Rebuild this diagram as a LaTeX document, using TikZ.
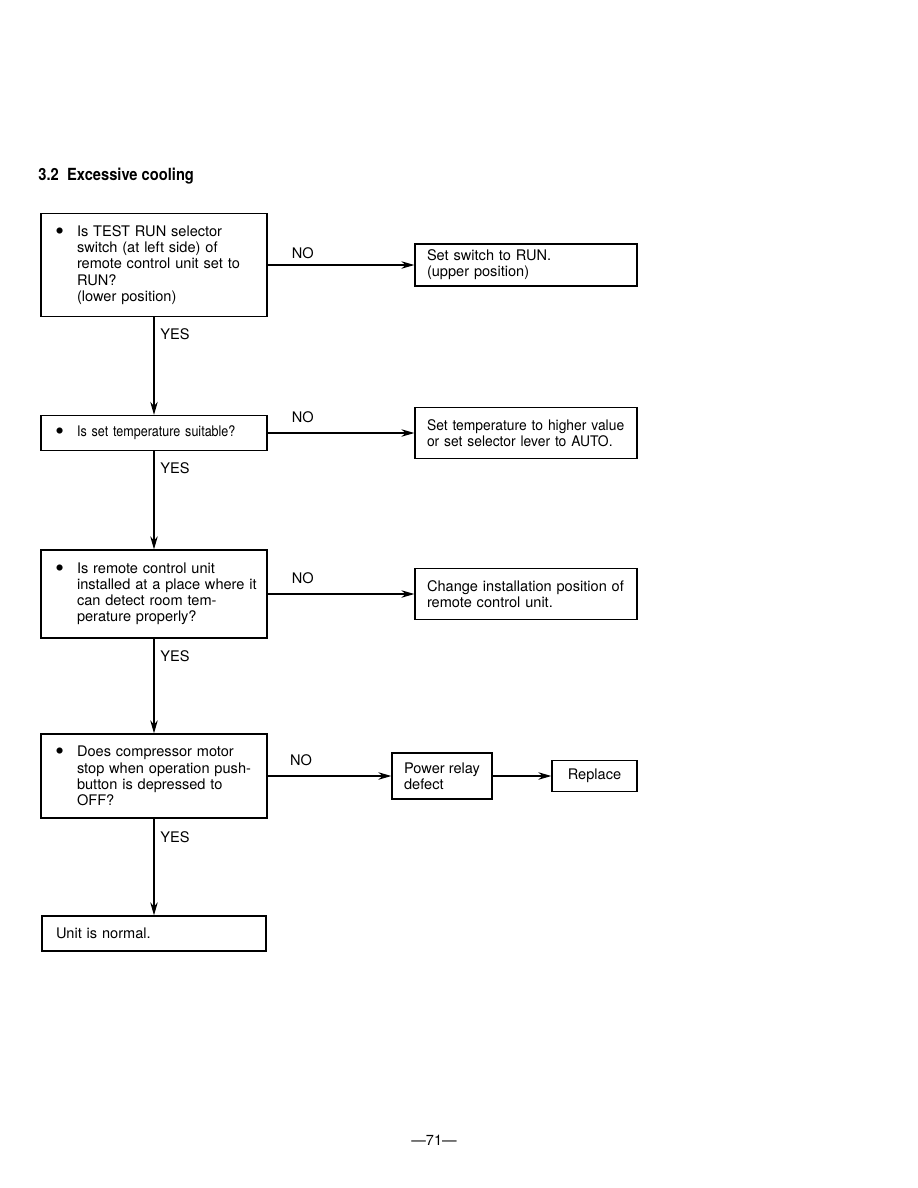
\documentclass[tikz,border=0pt]{standalone}
\usepackage{fontspec}
\setmainfont{TeX Gyre Heros}
\usetikzlibrary{arrows.meta, positioning}
\newcommand{\qitem}[1]{{\leftskip=0.52cm\llap{\raisebox{-0.35ex}{\fontsize{14}{14}\selectfont\textbullet}\hspace{0.26cm}}#1\par}}

\begin{document}
\begin{tikzpicture}[
  x=0.02cm, y=-0.02cm,
  qbox/.style={draw,line width=0.8pt,text width=4.12cm,inner xsep=0.2cm,
              align=left,font=\fontsize{8.3}{9.2}\selectfont},
  abox/.style={draw,line width=0.8pt,text width=3.96cm,inner xsep=0.24cm,
              align=left,font=\fontsize{8.3}{9.2}\selectfont},
  sbox/.style={draw,line width=0.8pt,align=left,font=\fontsize{8.3}{9.2}\selectfont},
  arr/.style={-{Stealth[length=0.26cm,width=0.15cm]},line width=0.6pt},
  lbl/.style={font=\fontsize{8.3}{10}\selectfont}
]
\useasboundingbox (0,0) rectangle (918,1188);
\node[anchor=west,inner sep=0,font=\bfseries\fontsize{9.5}{11}\selectfont] (title) at (38,176)
  {\addfontfeature{FakeStretch=0.88}3.2\hspace{0.5em}Excessive cooling};

\node[qbox,minimum height=2.06cm] (q1) at (154,265) {\qitem{Is TEST RUN selector\\ switch (at left side) of\\ remote control unit set to\\ RUN?\\ (lower position)}};
\node[qbox,minimum height=0.70cm] (q2) at (154,433) {\qitem{\addfontfeature{FakeStretch=0.86}Is set temperature suitable?}};
\node[qbox,minimum height=1.76cm] (q3) at (154,594) {\qitem{Is remote control unit\\ installed at a place where it\\ can detect room tem-\\ perature properly?}};
\node[qbox,minimum height=1.68cm] (q4) at (154,776) {\qitem{Does compressor motor\\ stop when operation push-\\ button is depressed to\\ OFF?}};
\node[qbox,inner xsep=0.28cm,text width=3.92cm,minimum height=0.70cm] (fin) at (154,933.5) {Unit is normal.};

\node[abox,minimum height=0.68cm] (r1) at (526,265) {Set switch to RUN.\\ (upper position)};
\node[abox,minimum height=1.02cm] (r2) at (526,433) {\addfontfeature{FakeStretch=0.95}Set temperature to higher value\\ or set selector lever to AUTO.};
\node[abox,minimum height=1.02cm] (r3) at (526,594) {Change installation position of\\ remote control unit.};
\node[sbox,minimum width=2cm,minimum height=0.92cm] (relay) at (442,776) {Power relay\\ defect};
\node[sbox,minimum width=1.7cm,minimum height=0.62cm] (repl) at (594.5,776) {Replace};

% YES path
\draw[arr] (q1) -- node[lbl,right,pos=0.17] (yes1) {YES} (q2);
\draw[arr] (q2) -- node[lbl,right,pos=0.17] (yes2) {YES} (q3);
\draw[arr] (q3) -- node[lbl,right,pos=0.19] (yes3) {YES} (q4);
\draw[arr] (q4) -- node[lbl,right,pos=0.19] (yes4) {YES} (fin);
% NO path
\draw[arr] (q1) -- node[lbl,above,pos=0.24] (no1) {NO} (r1);
\draw[arr] (q2) -- node[lbl,above,pos=0.24,yshift=2pt] (no2) {NO} (r2);
\draw[arr] (q3) -- node[lbl,above,pos=0.24,yshift=2pt] (no3) {NO} (r3);
\draw[arr] (q4) -- node[lbl,above,pos=0.27,yshift=2pt] (no4) {NO} (relay);
\draw[arr] (relay) -- (repl);

\node[font=\fontsize{8.3}{10}\selectfont] (pnum) at (434,1140) {—71—};
\end{tikzpicture}
\end{document}
